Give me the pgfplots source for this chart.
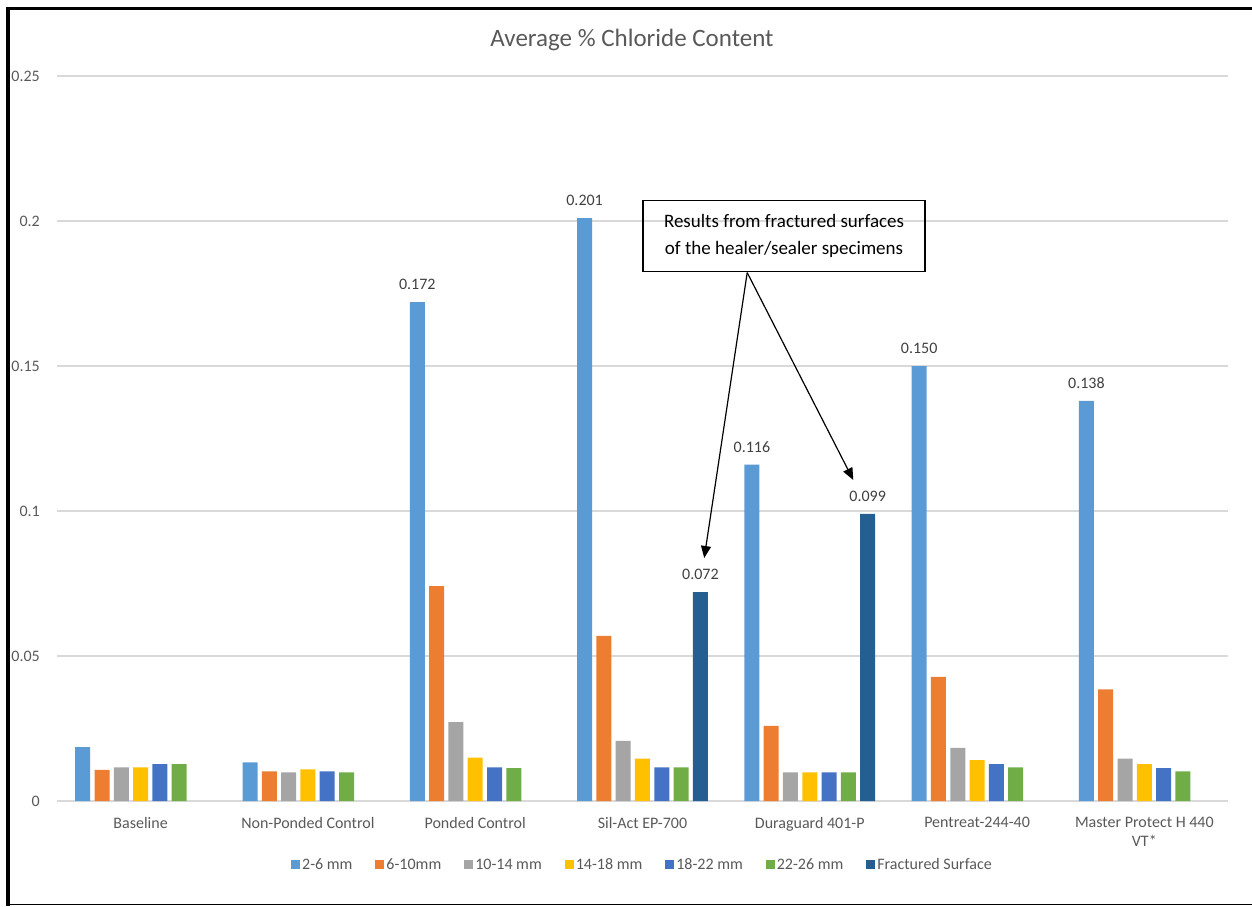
\documentclass[border=0pt]{standalone}
\usepackage{fontspec}
\setmainfont{Carlito}
\usepackage{pgfplots}
\pgfplotsset{compat=1.18}
\usetikzlibrary{arrows.meta}

\definecolor{cA}{HTML}{5B9BD5}
\definecolor{cB}{HTML}{ED7D31}
\definecolor{cC}{HTML}{A5A5A5}
\definecolor{cD}{HTML}{FFC000}
\definecolor{cE}{HTML}{4472C4}
\definecolor{cF}{HTML}{70AD47}
\definecolor{cG}{HTML}{255E91}
\definecolor{gridgray}{HTML}{D9D9D9}
\definecolor{labelgray}{HTML}{595959}
\definecolor{datagray}{HTML}{404040}

\begin{document}
\begin{tikzpicture}
\useasboundingbox (0,0) rectangle (1252pt,906pt);
% outer frame of the screenshot
\fill[black] (6pt,0pt) rectangle (10pt,899pt);
\fill[black] (6pt,896pt) rectangle (1252pt,899pt);
\fill[black] (6pt,1pt) rectangle (1252pt,2.5pt);

\node[font=\fontsize{25}{30}\selectfont, text=labelgray] at (632pt,866pt) {Average \% Chloride Content};

\begin{axis}[
  at={(57pt,105pt)}, anchor=south west,
  scale only axis, width=1171pt, height=725pt,
  ybar=4.3pt, bar width=15pt,
  xmin=-0.5, xmax=6.5, ymin=0, ymax=0.25,
  xtick={0,1,2,3,4,5,6},
  xticklabels={Baseline, Non-Ponded Control, Ponded Control, Sil-Act EP-700, Duraguard 401-P, Pentreat-244-40, {Master Protect H 440\\VT*}},
  ytick={0,0.05,0.1,0.15,0.2,0.25},
  yticklabels={0,0.05,0.1,0.15,0.2,0.25},
  /pgf/number format/assume math mode=true,
  ymajorgrids, grid style={draw=gridgray, line width=1.2pt},
  axis lines*=left,
  x axis line style={draw=gridgray, line width=1.2pt},
  y axis line style={draw=none},
  major tick length=0pt, tick style={draw=none},
  tick label style={font=\fontsize{16}{19}\selectfont, text=labelgray},
  xticklabel style={anchor=north, inner sep=0pt, yshift=-16pt, align=center},
  yticklabel style={anchor=east, inner sep=0pt, xshift=-17pt},
  clip=false,
  legend style={at={(0.5,-0.088)}, anchor=center, draw=none, fill=none,
    legend columns=-1, font=\fontsize{16}{19}\selectfont, text=labelgray,
    nodes={inner sep=2pt},
    /tikz/every even column/.append style={column sep=21pt}},
  legend image code/.code={\fill[#1] (0pt,-4.5pt) rectangle (9pt,4.5pt);},
  nodes near coords style={font=\fontsize{16}{19}\selectfont, text=datagray, anchor=south, inner sep=0pt, yshift=12pt},
]
\addplot[fill=cA, draw=none, point meta=explicit symbolic, nodes near coords] coordinates {
  (0,0.0186) [{}]
  (1,0.0133) [{}]
  (2,0.172) [0.172]
  (3,0.201) [0.201]
  (4,0.116) [0.116]
  (5,0.150) [0.150]
  (6,0.138) [0.138]
};
\addlegendentry{2-6 mm}
\addplot[fill=cB, draw=none] coordinates {
  (0,0.0107) (1,0.0102) (2,0.0741) (3,0.0569) (4,0.0259) (5,0.0428) (6,0.0385)
};
\addlegendentry{6-10mm}
\addplot[fill=cC, draw=none] coordinates {
  (0,0.0116) (1,0.0099) (2,0.0272) (3,0.0207) (4,0.0099) (5,0.0183) (6,0.0146)
};
\addlegendentry{10-14 mm}
\addplot[fill=cD, draw=none] coordinates {
  (0,0.0116) (1,0.0109) (2,0.0150) (3,0.0146) (4,0.0099) (5,0.0141) (6,0.0127)
};
\addlegendentry{14-18 mm}
\addplot[fill=cE, draw=none] coordinates {
  (0,0.0127) (1,0.0102) (2,0.0116) (3,0.0116) (4,0.0099) (5,0.0127) (6,0.0113)
};
\addlegendentry{18-22 mm}
\addplot[fill=cF, draw=none] coordinates {
  (0,0.0127) (1,0.0099) (2,0.0113) (3,0.0116) (4,0.0099) (5,0.0116) (6,0.0102)
};
\addlegendentry{22-26 mm}
\addplot[fill=cG, draw=none, point meta=explicit symbolic, nodes near coords] coordinates {
  (3,0.072) [0.072]
  (4,0.099) [0.099]
};
\addlegendentry{Fractured Surface}

% annotation box with its two arrows
\node[draw=black, line width=1.2pt, align=center, minimum width=282pt, minimum height=71pt,
  inner sep=0pt, font=\fontsize{19}{27}\selectfont, text=black]
  at (axis cs:3.846,0.1947) {Results from fractured surfaces\\of the healer/sealer specimens};
\draw[black, line width=1.2pt, -{Triangle[length=12pt,width=10pt]}]
  (axis cs:3.626,0.1822) -- (axis cs:3.369,0.0838);
\draw[black, line width=1.2pt, -{Triangle[length=12pt,width=10pt]}]
  (axis cs:3.626,0.1822) -- (axis cs:4.260,0.1107);
\end{axis}
\end{tikzpicture}
\end{document}
